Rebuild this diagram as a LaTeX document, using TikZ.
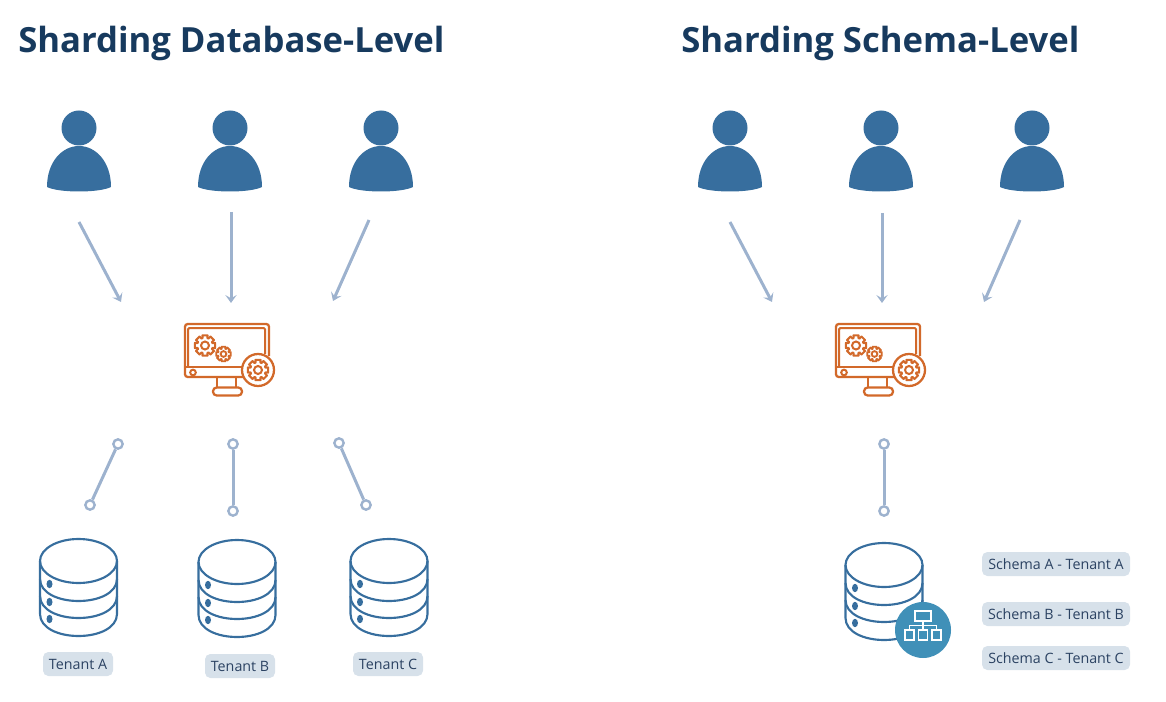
\documentclass[tikz,border=0pt]{standalone}
\usepackage{fontspec}
\usetikzlibrary{arrows.meta}
\setmainfont{Open Sans}
\definecolor{titlec}{HTML}{173A5E}
\definecolor{userc}{HTML}{376E9E}
\definecolor{linkc}{HTML}{9DB2CE}
\definecolor{orangec}{HTML}{D2692A}
\definecolor{tagc}{HTML}{D7E1EA}
\definecolor{tagt}{HTML}{2B4262}
\definecolor{badgec}{HTML}{4090B8}
\newcommand{\gearshape}[4]{% x y r width
  \draw[orangec,line width=#4] (#1,#2) circle[radius=#3*0.38];
  \draw[orangec,line width=#4,line join=round,shift={(#1,#2)}]
    (-14:#3)
    \foreach \a in {0,45,...,315}{ -- (\a-14:#3) -- (\a+14:#3) -- (\a+18:#3*0.74) -- (\a+27:#3*0.74)} -- cycle;
}
\tikzset{
  x=0.75pt,y=-0.75pt,
  titletext/.style={font=\fontsize{26pt}{32pt}\selectfont\bfseries,text=titlec,inner sep=0pt,anchor=west},
  tag/.style={fill=tagc,rounded corners=4pt,text=tagt,font=\fontsize{10.7pt}{12pt}\selectfont,inner sep=0pt,minimum height=18pt,anchor=center},
  shorttag/.style={tag,minimum width=52.5pt},
  longtag/.style={tag,minimum width=111pt},
  link/.style={draw=linkc,line width=2.25pt},
  arrowlink/.style={link,-{Stealth[length=6pt,width=8.5pt,inset=2.5pt]}},
  endball/.style={circle,draw=linkc,line width=1.8pt,fill=white,inner sep=0pt,minimum size=7pt},
  dbline/.style={draw=userc,line width=1.6pt},
  person/.pic={
    \fill[userc] (0,-64) circle[radius=17.5];
    \fill[userc] (-32,-5) .. controls (-32,-30) and (-17,-46) .. (0,-46) .. controls (17,-46) and (32,-30) .. (32,-5)
       .. controls (20,1) and (-20,1) .. (-32,-5) -- cycle;
  },
  database/.pic={
    \draw[dbline] (0,0) ellipse[x radius=38.5,y radius=22];
    \draw[dbline] (-38.5,0) -- (-38.5,53) .. controls (-38.5,67) and (-20,75) .. (0,75) .. controls (20,75) and (38.5,67) .. (38.5,53) -- (38.5,0);
    \draw[dbline] (-38.5,18) .. controls (-38.5,32) and (-20,40) .. (0,40) .. controls (20,40) and (38.5,32) .. (38.5,18);
    \draw[dbline] (-38.5,35) .. controls (-38.5,49) and (-20,57) .. (0,57) .. controls (20,57) and (38.5,49) .. (38.5,35);
    \foreach \yy in {23,41,58}{\fill[userc] (-29,\yy) ellipse[x radius=3,y radius=4.2];}
  },
  monitor/.pic={
    \draw[orangec,line width=1.7pt,rounded corners=2pt] (60,53) -- (0,53) -- (0,0) -- (84,0) -- (84,32);
    \draw[orangec,line width=1.5pt,rounded corners=1pt] (3,43) -- (3,4) -- (80,4) -- (80,30);
    \draw[orangec,line width=1.7pt] (0,43) -- (58,43);
    \draw[orangec,line width=1.5pt] (8,48.5) circle[radius=2.8];
    \draw[orangec,line width=1.6pt] (32,53) -- (32,63.5) (51,53) -- (51,63.5);
    \draw[orangec,line width=1.7pt,rounded corners=2.8pt] (28,63.5) rectangle (57,71.5);
    \gearshape{20}{21.5}{10.5}{1.5pt}
    \gearshape{38.5}{30}{7.5}{1.4pt}
    \fill[white] (73,46) circle[radius=16];
    \draw[orangec,line width=1.7pt] (73,46) circle[radius=16];
    \gearshape{73}{46}{10.5}{1.5pt}
  }
}
\begin{document}
\begin{tikzpicture}
\useasboundingbox (0,0) rectangle (1166,702);
% titles
\node[titletext] (t1) at (18,43) {Sharding Database-Level};
\node[titletext] (t2) at (681,43) {Sharding Schema-Level};
% users
\foreach \nm/\xx in {ua/79,ub/230,uc/381,ud/730,ue/881,uf/1032}{
  \pic (\nm) at (\xx,192) {person};
}
% arrows
\coordinate (a1s) at (79,222);  \coordinate (a1e) at (121,302);
\coordinate (a2s) at (231,212); \coordinate (a2e) at (231,303);
\coordinate (a3s) at (369,220); \coordinate (a3e) at (333,301);
\coordinate (a4s) at (730,222); \coordinate (a4e) at (772,302);
\coordinate (a5s) at (882,213); \coordinate (a5e) at (882,303);
\coordinate (a6s) at (1020,220);\coordinate (a6e) at (984,302);
\foreach \n in {1,...,6}{\draw[arrowlink] (a\n s) -- (a\n e);}
% monitors
\pic (m1) at (185,324) {monitor};
\pic (m2) at (836,324) {monitor};
% connectors
\node[endball] (b1s) at (118,444) {};
\node[endball] (b1e) at (90,505) {};
\node[endball] (b2s) at (233,444) {};
\node[endball] (b2e) at (233,511) {};
\node[endball] (b3s) at (339,443) {};
\node[endball] (b3e) at (366,505) {};
\node[endball] (b4s) at (884,444) {};
\node[endball] (b4e) at (884,511) {};
\foreach \n in {1,...,4}{\draw[link] (b\n s) -- (b\n e);}
% databases
\pic (d1) at (78.5,561) {database};
\pic (d2) at (237,562) {database};
\pic (d3) at (389,561) {database};
\pic (d4) at (884,565) {database};
% badge
\fill[badgec] (923,630) circle[radius=28];
\begin{scope}[white,line width=0.8pt]
  \draw (915,611) rectangle (931,621);
  \draw (905,630) rectangle (914,640);
  \draw (918.5,630) rectangle (927.5,640);
  \draw (932,630) rectangle (941,640);
  \draw (923,621) -- (923,630) (909.5,630) -- (909.5,625.5) -- (936.5,625.5) -- (936.5,630);
\end{scope}
% labels
\node[shorttag] (l1) at (78,664) {Tenant A};
\node[shorttag] (l2) at (240,666) {Tenant B};
\node[shorttag] (l3) at (388,664) {Tenant C};
\node[longtag] (l4) at (1056,564) {Schema A - Tenant A};
\node[longtag] (l5) at (1056,614) {Schema B - Tenant B};
\node[longtag] (l6) at (1056,658) {Schema C - Tenant C};
\end{tikzpicture}
\end{document}
